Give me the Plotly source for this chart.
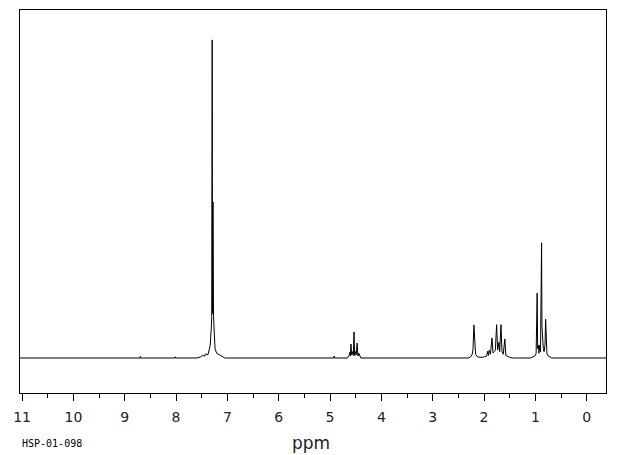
import plotly.graph_objects as go

# Spectrum trace: chemical shift (ppm) and relative intensity
ppm = [11.04,
       8.70, 8.695, 8.69,
       8.02, 8.015, 8.01,
       7.60, 7.52, 7.48, 7.45, 7.42, 7.38, 7.36, 7.335, 7.315, 7.305,
       7.296, 7.29, 7.280, 7.27, 7.255, 7.24, 7.22, 7.19, 7.15, 7.10, 7.05,
       4.925, 4.92, 4.915,
       4.66, 4.63, 4.612, 4.603, 4.593, 4.578, 4.56, 4.545, 4.533, 4.52, 4.505,
       4.49, 4.472, 4.457, 4.44, 4.42, 4.40,
       2.30, 2.26, 2.23, 2.215, 2.197, 2.18, 2.165, 2.13, 2.08,
       2.00, 1.95, 1.93, 1.915, 1.90, 1.875, 1.845, 1.825, 1.80, 1.78, 1.755,
       1.735, 1.71, 1.695, 1.67, 1.65, 1.625, 1.595, 1.575, 1.54, 1.50, 1.45,
       1.10, 1.05, 1.00, 0.985, 0.975, 0.965, 0.955, 0.94, 0.93, 0.915, 0.90,
       0.879, 0.872, 0.862, 0.845, 0.83, 0.812, 0.80, 0.79, 0.775, 0.76, 0.72,
       0.68, -0.376]
intensity = [0,
             0, 0.5, 0,
             0, 0.4, 0,
             0, 0.3, 1.0, 0.5, 1.3, 1.0, 2.2, 4.0, 9.0, 13.0,
             100.0, 14.0, 49.0, 13.0, 8.0, 3.0, 2.0, 1.2, 1.0, 0.4, 0,
             0, 0.6, 0,
             0, 0.8, 1.8, 0.6, 4.4, 1.0, 2.0, 0.8, 8.2, 0.8, 2.0,
             1.0, 4.7, 0.6, 1.5, 0.3, 0,
             0, 0.4, 1.2, 2.8, 10.4, 2.8, 1.2, 0.4, 0.2,
             0.3, 0.6, 2.1, 0.8, 2.4, 1.2, 6.3, 1.6, 2.0, 2.4, 10.5,
             2.5, 4.9, 2.0, 10.5, 2.0, 1.2, 6.0, 0.8, 0.4, 0.2, 0,
             0, 0.3, 0.8, 1.5, 10.5, 20.4, 3.0, 4.0, 1.5, 4.0, 2.0,
             36.2, 10.0, 5.0, 3.0, 2.0, 4.0, 12.2, 3.0, 1.5, 0.8, 0.3,
             0, 0]

tick_values = [11, 10, 9, 8, 7, 6, 5, 4, 3, 2, 1, 0]
tick_labels = ["11", "10", "9", "8", "7", "6", "5", "4", "3", "2", "1", "0"]
x_title = "ppm"
sample_id = "HSP-01-098"

fig = go.Figure()
fig.add_trace(go.Scatter(x=ppm, y=intensity, mode="lines",
                         line=dict(color="black", width=1),
                         hoverinfo="skip", showlegend=False))

fig.update_layout(
    width=620, height=455,
    margin=dict(l=20, r=14, t=10, b=62),
    paper_bgcolor="white", plot_bgcolor="white",
    font=dict(family="DejaVu Sans", color="black"),
    xaxis=dict(range=[11.04, -0.376], showgrid=False, zeroline=False,
               showline=True, mirror=True, linecolor="black", linewidth=1,
               ticks="outside", ticklen=7, tickwidth=1, tickcolor="black",
               tickvals=tick_values, ticktext=tick_labels,
               tickfont=dict(family="DejaVu Sans", size=14, color="#222"),
               ticklabelstandoff=4,
               minor=dict(dtick=0.5, tick0=0, ticks="outside", ticklen=4,
                          tickwidth=1, tickcolor="black", showgrid=False)),
    yaxis=dict(range=[-11.0, 109.4], showgrid=False, zeroline=False,
               showline=True, mirror=True, linecolor="black", linewidth=1,
               showticklabels=False, ticks=""),
    annotations=[
        dict(text=x_title, xref="paper", yref="paper", x=0.496, y=-0.13,
             xanchor="center", yanchor="middle", showarrow=False,
             font=dict(family="DejaVu Sans", size=17, color="#222")),
        dict(text=sample_id, xref="paper", yref="paper", x=-0.0, y=-0.133,
             xanchor="left", yanchor="middle", showarrow=False,
             font=dict(family="DejaVu Sans Mono", size=10, color="black")),
    ],
)

fig.write_html("out.html", config={"displayModeBar": False},
               post_script="document.body.style.margin='0';")
